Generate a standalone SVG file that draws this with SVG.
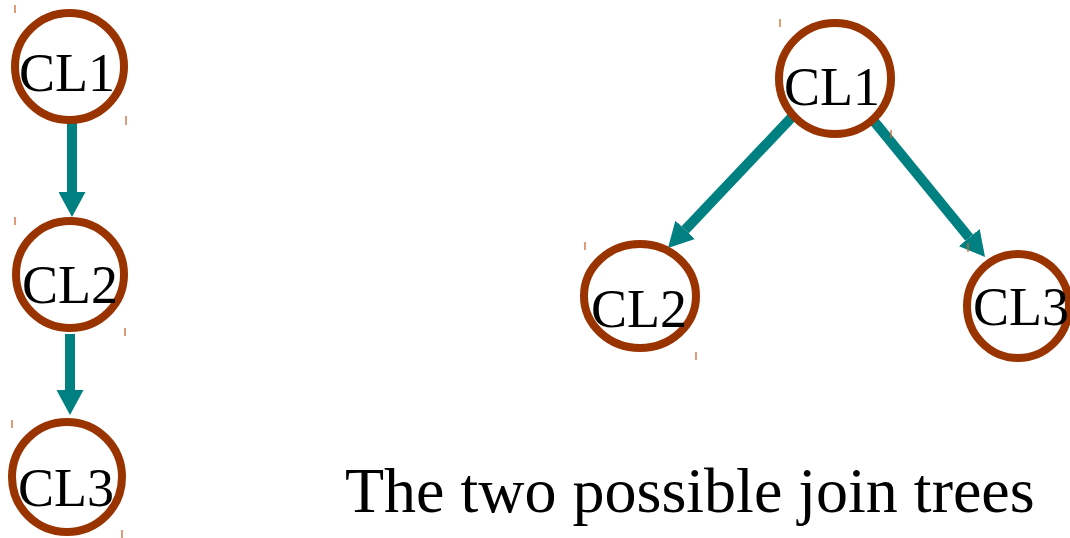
<svg xmlns="http://www.w3.org/2000/svg" width="1070" height="538" viewBox="0 0 1070 538">
<style>
.node{fill:none;stroke:#993300;stroke-width:8}
.lbl{font-family:"Liberation Serif","Times New Roman",serif;font-size:54px;fill:#000;text-anchor:middle}
.tick{stroke:#cc6633;stroke-width:1.3}
.edge{stroke:#008080;stroke-width:10;fill:none}
.title{font-family:"Liberation Serif","Times New Roman",serif;font-size:64px;fill:#000}
</style>
<defs>
<marker id="ah" viewBox="0 0 25 27" refX="0" refY="13.5" markerWidth="25" markerHeight="27" markerUnits="userSpaceOnUse" orient="auto">
<path d="M0,0 L25,13.5 L0,27 z" fill="#008080"/>
</marker>
</defs>
<rect width="1070" height="538" fill="#fff"/>
<g id="connectors">
<line class="edge" x1="72" y1="122" x2="72" y2="192" marker-end="url(#ah)"/>
<line class="edge" x1="70" y1="334" x2="70" y2="390" marker-end="url(#ah)"/>
<line class="edge" x1="792" y1="117" x2="685.2" y2="229.8" marker-end="url(#ah)"/>
<line class="edge" x1="873" y1="120" x2="969.2" y2="237.6" marker-end="url(#ah)"/>
</g>
<g id="left-CL1">
<ellipse class="node" cx="69.5" cy="66.5" rx="54.5" ry="53.5"/>
<text class="lbl" x="67" y="91">CL1</text>
<line class="tick" x1="15" y1="5" x2="15" y2="13"/>
<line class="tick" x1="126" y1="116" x2="126" y2="125"/>
</g>
<g id="left-CL2">
<ellipse class="node" cx="70" cy="274.5" rx="54" ry="53.5"/>
<text class="lbl" x="70" y="303">CL2</text>
<line class="tick" x1="15" y1="217" x2="15" y2="225"/>
<line class="tick" x1="125" y1="328" x2="125" y2="336"/>
</g>
<g id="left-CL3">
<ellipse class="node" cx="67" cy="477" rx="55" ry="55"/>
<text class="lbl" x="66" y="506">CL3</text>
<line class="tick" x1="12" y1="420" x2="12" y2="428"/>
<line class="tick" x1="122" y1="530" x2="122" y2="538"/>
</g>
<g id="right-CL1">
<ellipse class="node" cx="835" cy="78.5" rx="56" ry="55.5"/>
<text class="lbl" x="832" y="105">CL1</text>
<line class="tick" x1="780" y1="19" x2="780" y2="27"/>
<line class="tick" x1="891" y1="130" x2="891" y2="138"/>
</g>
<g id="right-CL2">
<ellipse class="node" cx="640" cy="296" rx="56" ry="52"/>
<text class="lbl" x="639" y="327">CL2</text>
<line class="tick" x1="585" y1="242" x2="585" y2="250"/>
<line class="tick" x1="696" y1="352" x2="696" y2="360"/>
</g>
<g id="right-CL3">
<ellipse class="node" cx="1018" cy="306" rx="51" ry="52"/>
<text class="lbl" x="1021" y="325">CL3</text>
<line class="tick" x1="968" y1="243" x2="968" y2="252"/>
</g>
<text class="title" x="345" y="512">The two possible join trees</text>
</svg>
